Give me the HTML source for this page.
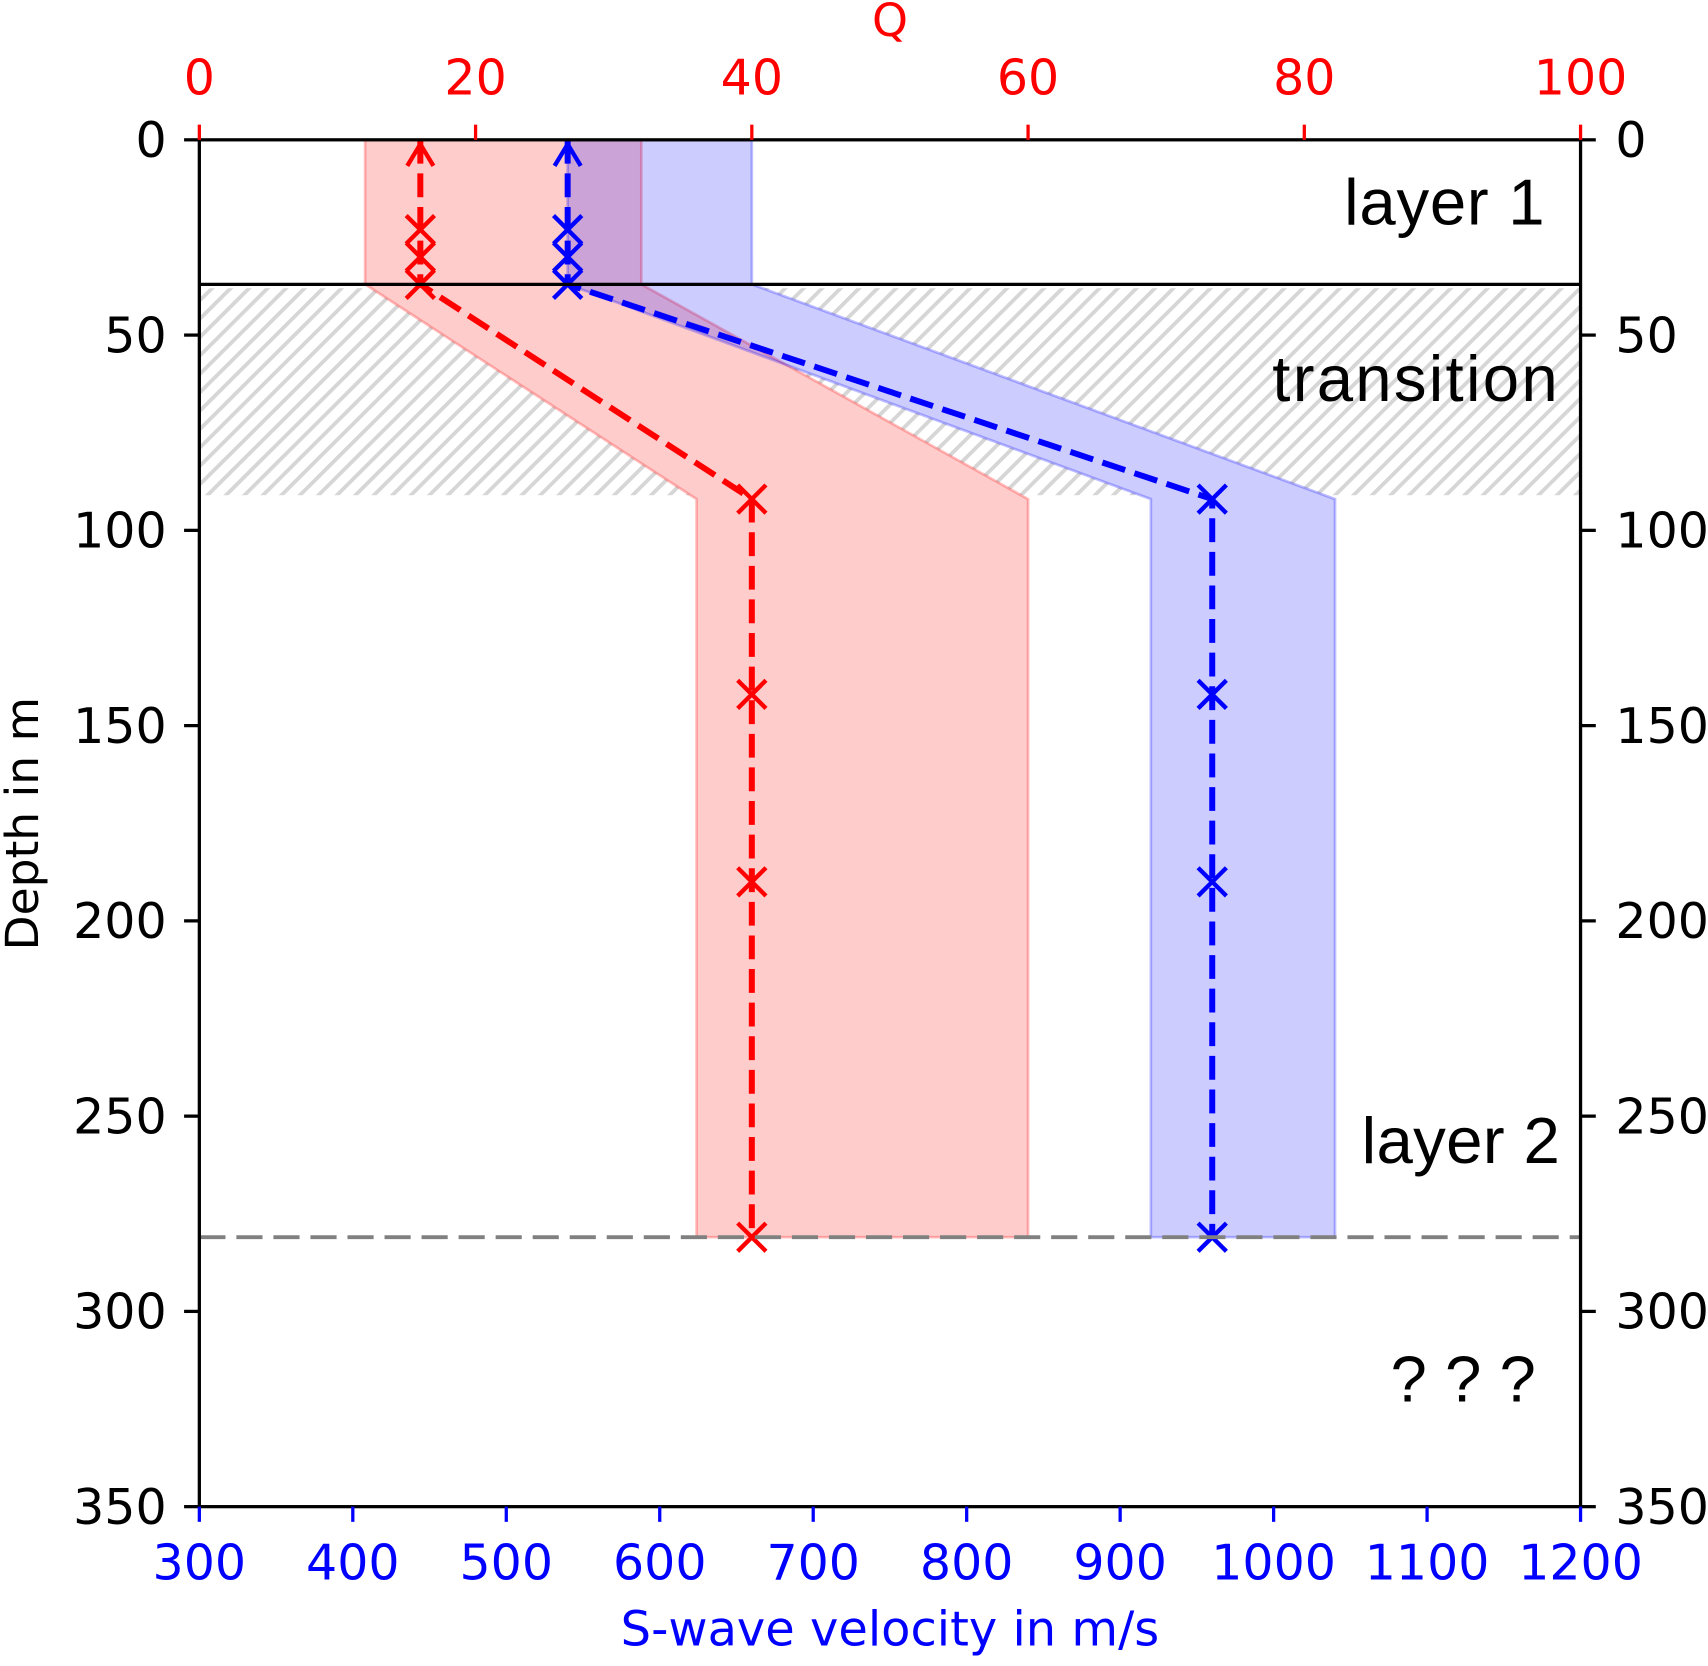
<!DOCTYPE html>
<html><head><meta charset="utf-8"><style>
html,body{margin:0;padding:0;background:#fff;}
svg{display:block;font-family:"DejaVu Sans","Liberation Sans",sans-serif;}
</style></head><body>
<svg id="chart" width="1708" height="1666" viewBox="0 0 1568 1537" preserveAspectRatio="none" xmlns="http://www.w3.org/2000/svg">
<defs>
<pattern id="hatch" patternUnits="userSpaceOnUse" width="12" height="12" patternTransform="rotate(45)">
<rect width="12" height="12" fill="#fff"/>
<rect x="0" y="0" width="3.5" height="12" fill="#d6d6d6"/>
</pattern>
<clipPath id="plotclip"><rect x="183" y="129" width="1268" height="1261"/></clipPath>
</defs>
<g id="plot" clip-path="url(#plotclip)"></g>
<g id="axes"></g>
</svg>
<script>
const depthTicks=[0,50,100,150,200,250,300,350];
const velTicks=[300,400,500,600,700,800,900,1000,1100,1200];
const qTicks=[0,20,40,60,80,100];
const qDepths=[0,23,30,37,92,142,190,281];
const qValues=[16,16,16,16,40,40,40,40];
const qBandDepths=[0,37,92,281];
const qBandLow=[12,12,36,36];
const qBandHigh=[32,32,60,60];
const vDepths=[0,23,30,37,92,142,190,281];
const vValues=[540,540,540,540,960,960,960,960];
const vBandDepths=[0,37,92,281];
const vBandLow=[540,540,920,920];
const vBandHigh=[660,660,1040,1040];
const layerBoundary=37;
const transitionRange=[38,91];
const halfspaceTop=281;

const L=183,R=1451,T=129,B=1390;
const yD=d=>T+(d/350)*(B-T);
const xV=v=>L+(v-300)/900*(R-L);
const xQ=q=>L+q/100*(R-L);
const NS="http://www.w3.org/2000/svg";
const plot=document.getElementById('plot');
const axes=document.getElementById('axes');
function mk(tag,attrs,parent){const e=document.createElementNS(NS,tag);for(const k in attrs)e.setAttribute(k,attrs[k]);parent.appendChild(e);return e;}

let hr=mk('rect',{x:L,y:yD(transitionRange[0]),width:R-L,height:yD(transitionRange[1])-yD(transitionRange[0]),fill:'url(#hatch)'},plot);



function bandPts(depths,low,high,xf){
  const pts=[];
  for(let i=0;i<depths.length;i++)pts.push(xf(low[i])+','+yD(depths[i]));
  for(let i=depths.length-1;i>=0;i--)pts.push(xf(high[i])+','+yD(depths[i]));
  return pts.join(' ');
}
const qPts=bandPts(qBandDepths,qBandLow,qBandHigh,xQ);
const vPts=bandPts(vBandDepths,vBandLow,vBandHigh,xV);
let w1=mk('polygon',{points:qPts,fill:'#fff'},plot);


let w2=mk('polygon',{points:vPts,fill:'#fff'},plot);


let qb=mk('polygon',{points:qPts,fill:'#ff0000','fill-opacity':0.2,stroke:'#ff0000','stroke-opacity':0.25,'stroke-width':2.5},plot);


let vb=mk('polygon',{points:vPts,fill:'#0000ff','fill-opacity':0.2,stroke:'#0000ff','stroke-opacity':0.25,'stroke-width':2.5},plot);



function series(depths,vals,xf,color,name){
  const pts=depths.map((d,i)=>xf(vals[i])+','+yD(d)).join(' ');
  const pl=mk('polyline',{points:pts,fill:'none',stroke:color,'stroke-width':5.5,'stroke-dasharray':'22,9'},plot);
  
  
  depths.forEach((d,i)=>{
    const x=xf(vals[i]),y=yD(d),s=13;
    let m;
    if(d===0){m=mk('path',{d:`M${x-12},${y+24} L${x},${y+4} L${x+12},${y+24}`,fill:'none',stroke:color,'stroke-width':4},plot);}
    else{m=mk('path',{d:`M${x-s},${y-s} L${x+s},${y+s} M${x-s},${y+s} L${x+s},${y-s}`,stroke:color,'stroke-width':4},plot);}
    
    
  });
}
series(qDepths,qValues,xQ,'#ff0000','q-profile');
series(vDepths,vValues,xV,'#0000ff','velocity-profile');

let lb=mk('line',{x1:L,x2:R,y1:yD(layerBoundary),y2:yD(layerBoundary),stroke:'#000','stroke-width':3},plot);


let hs=mk('line',{x1:L,x2:R,y1:yD(halfspaceTop),y2:yD(halfspaceTop),stroke:'#808080','stroke-width':3.5,'stroke-dasharray':'24,10'},plot);



let fr=mk('rect',{x:L,y:T,width:R-L,height:B-T,fill:'none',stroke:'#000','stroke-width':3},axes);



function txt(s,attrs,name){const t=mk('text',attrs,axes);t.textContent=s;return t;}

depthTicks.forEach(d=>{
  const y=yD(d);
  let tk=mk('line',{x1:L-14,x2:L,y1:y,y2:y,stroke:'#000','stroke-width':3},axes);
  
  
  let tk2=mk('line',{x1:R,x2:R+14,y1:y,y2:y,stroke:'#000','stroke-width':3},axes);
  
  
  txt(String(d),{x:L-30,y:y+16,'text-anchor':'end','font-size':45,fill:'#000'},'left-depth-tick-label');
  txt(String(d),{x:R+32,y:y+16,'text-anchor':'start','font-size':45,fill:'#000'},'right-depth-tick-label');
});
velTicks.forEach(v=>{
  const x=xV(v);
  let tk=mk('line',{x1:x,x2:x,y1:B,y2:B+14,stroke:'#0000ff','stroke-width':3},axes);
  
  
  txt(String(v),{x:x,y:1457,'text-anchor':'middle','font-size':45,fill:'#0000ff'},'velocity-tick-label');
});
qTicks.forEach(q=>{
  const x=xQ(q);
  let tk=mk('line',{x1:x,x2:x,y1:T-14,y2:T,stroke:'#ff0000','stroke-width':3},axes);
  
  
  txt(String(q),{x:x,y:87,'text-anchor':'middle','font-size':45,fill:'#ff0000'},'q-tick-label');
});
txt('Q',{x:817,y:33,'text-anchor':'middle','font-size':42,fill:'#ff0000'},'q-axis-title');
txt('S-wave velocity in m/s',{x:817,y:1518,'text-anchor':'middle','font-size':44,fill:'#0000ff'},'velocity-axis-title');
txt('Depth in m',{x:0,y:0,'text-anchor':'middle','font-size':42,fill:'#000',transform:'translate(35,760) rotate(-90)'},'depth-axis-title');
const ann="'Liberation Sans','DejaVu Sans',sans-serif";
txt('layer 1',{x:1418,y:207,'text-anchor':'end','font-size':60,fill:'#000','font-family':ann,'textLength':184},'layer-1-label');
txt('transition',{x:1430,y:370,'text-anchor':'end','font-size':60,fill:'#000','font-family':ann,'textLength':262},'transition-label');
txt('layer 2',{x:1432,y:1073,'text-anchor':'end','font-size':60,fill:'#000','font-family':ann,'textLength':182},'layer-2-label');
txt('? ? ?',{x:1410,y:1293,'text-anchor':'end','font-size':60,fill:'#000','font-family':ann},'unknown-label');
</script>
</body></html>
